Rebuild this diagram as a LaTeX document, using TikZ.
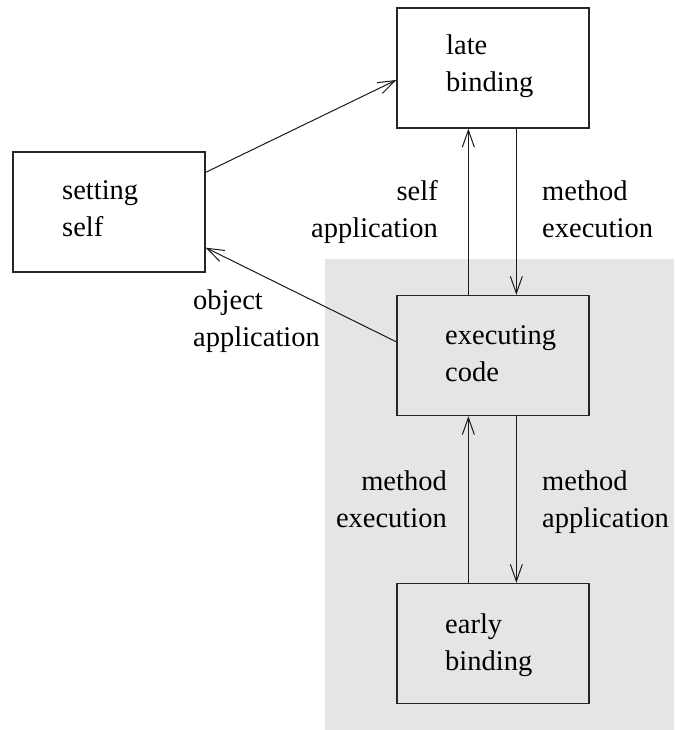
\documentclass[tikz,border=0pt]{standalone}
\usepackage{fontspec}
\setmainfont{Liberation Serif}
\usetikzlibrary{arrows.meta}
\definecolor{greybg}{HTML}{E5E5E5}
\begin{document}
\begin{tikzpicture}[x=1pt,y=-1pt,
  box/.style={draw=black!85, line width=1.3pt, minimum width=192pt, minimum height=120pt, inner sep=0pt},
  txt/.style={font=\fontsize{28.5}{37}\selectfont, inner sep=0pt},
  lt/.style={txt, align=left, anchor=base west},
  rt/.style={txt, align=right, anchor=base east},
  link/.style={draw=black!90, line width=1pt, -{Straight Barb[length=17pt,width=12pt,line width=1pt]}}]
\useasboundingbox (0,0) rectangle (674,730);
% shaded region around the code part
\fill[greybg] (325,259) rectangle (674,730);

% boxes
\node[box] (late)  at (493,68)  {};
\node[box] (set)   at (109,212) {};
\node[box] (exec)  at (493,355.5) {};
\node[box] (early) at (493,643.5) {};

% box texts (anchored at the baseline of the last line)
\node[lt] (lateT)  at (446,92)  {late\\binding};
\node[lt] (setT)   at (62,236)  {setting\\self};
\node[lt] (execT)  at (445,381) {executing\\code};
\node[lt] (earlyT) at (445,670) {early\\binding};

% connector labels
\node[rt] (selfapp)  at (438,237) {self\\application};
\node[lt] (methex1)  at (542,237) {method\\execution};
\node[lt] (objapp)   at (193,346) {object\\application};
\node[rt] (methex2)  at (447,527) {method\\execution};
\node[lt] (methapp)  at (542,527) {method\\application};

% connectors
\draw[link] ([yshift=-21pt]set.north east) -- ([yshift=-12pt]late.west);
\draw[link] ([yshift=-47pt]exec.north west) -- ([yshift=25pt]set.south east);
\draw[link] ([xshift=72pt]exec.north west) -- ([xshift=72pt]late.south west);
\draw[link] ([xshift=120pt]late.south west) -- ([xshift=120pt]exec.north west);
\draw[link] ([xshift=72pt]early.north west) -- ([xshift=72pt]exec.south west);
\draw[link] ([xshift=120pt]exec.south west) -- ([xshift=120pt]early.north west);
\end{tikzpicture}
\end{document}
